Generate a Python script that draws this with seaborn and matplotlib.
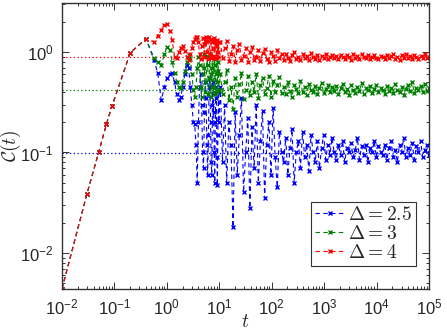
import numpy as np
import pandas as pd
import matplotlib
matplotlib.use("Agg")
import matplotlib.pyplot as plt
import seaborn as sns
from matplotlib.ticker import LogLocator, NullFormatter

# early times, identical for all three curves
t_early = [0.01, 0.03, 0.05, 0.07, 0.09, 0.2, 0.4]
c_early = [0.0044, 0.039, 0.10, 0.19, 0.29, 0.98, 1.35]

# oscillating part, 0.5 < t < 10
t_mid = [0.57, 0.67, 0.78, 0.9, 1.0, 1.13, 1.26, 1.4, 1.55, 1.7, 1.85, 2.0,
         2.2, 2.4, 2.6, 2.8, 3.0, 3.2, 3.4, 3.6, 3.8, 4.0,
         4.2, 4.4, 4.6, 4.8, 5.0, 5.2, 5.4, 5.6, 5.8, 6.0, 6.2, 6.4, 6.6, 6.8,
         7.0, 7.2, 7.4, 7.6, 7.8, 8.0, 8.2, 8.4, 8.6, 8.8, 9.0, 9.2, 9.4, 9.6, 9.8]

mid_25 = [0.83, 0.62, 0.33, 0.45, 0.55, 0.6, 0.62, 0.5, 0.38, 0.33, 0.36, 0.45,
          0.6, 0.75, 0.7, 0.45, 0.3, 0.2, 0.19, 0.12, 0.05, 0.2,
          0.45, 0.6, 0.3, 0.1, 0.07, 0.25, 0.5, 0.35, 0.12, 0.06, 0.15, 0.45, 0.55, 0.2,
          0.08, 0.06, 0.3, 0.5, 0.25, 0.1, 0.05, 0.2, 0.45, 0.35, 0.09, 0.047, 0.15, 0.4, 0.2]
mid_3 = [0.87, 0.8, 0.74, 0.95, 1.12, 1.05, 0.8, 0.62, 0.5, 0.45, 0.44, 0.5,
         0.65, 0.8, 0.93, 0.85, 0.6, 0.42, 0.36, 0.45, 0.7, 0.9,
         0.75, 0.45, 0.36, 0.6, 0.95, 0.7, 0.4, 0.5, 0.92, 0.75, 0.38, 0.55, 0.95, 0.6,
         0.36, 0.7, 0.9, 0.45, 0.4, 0.85, 0.75, 0.38, 0.6, 0.88, 0.5, 0.4, 0.8, 0.65, 0.42]
mid_4 = [1.26, 1.45, 1.66, 1.85, 1.9, 1.6, 1.32, 0.9, 0.87, 1.0, 1.1, 1.15,
         1.02, 0.9, 0.84, 0.95, 1.1, 1.25, 1.35, 1.4, 1.42, 1.25,
         0.95, 0.86, 1.15, 1.38, 1.2, 0.9, 1.3, 1.42, 1.0, 0.86, 1.3, 1.4, 0.95, 0.88,
         1.35, 1.25, 0.9, 1.1, 1.38, 0.92, 0.87, 1.3, 1.2, 0.88, 1.15, 1.33, 0.9, 1.0, 1.25]

# long-time fluctuations, sampled evenly in log t from 10.5 to 1e5
late_25 = [0.45, 0.08, 0.3, 0.05, 0.2, 0.12, 0.018, 0.25, 0.06, 0.15, 0.35, 0.04, 0.1, 0.22, 0.028,
           0.18, 0.07, 0.3, 0.05, 0.13, 0.26, 0.035, 0.12, 0.2, 0.06, 0.28, 0.09, 0.045, 0.16, 0.1,
           0.08, 0.14, 0.06, 0.11, 0.17, 0.05, 0.1, 0.13, 0.07, 0.16, 0.09, 0.12,
           0.065, 0.15, 0.1, 0.08, 0.13, 0.07, 0.11, 0.15, 0.085, 0.12, 0.095, 0.14,
           0.1, 0.085, 0.12, 0.095, 0.13, 0.08, 0.11, 0.1, 0.125, 0.09, 0.105, 0.14,
           0.085, 0.115, 0.095, 0.12, 0.08, 0.11, 0.1, 0.13, 0.09, 0.115, 0.1,
           0.095, 0.12, 0.085, 0.11, 0.13, 0.09, 0.105, 0.08, 0.12, 0.1, 0.14, 0.09,
           0.11, 0.095, 0.125, 0.085, 0.115, 0.1, 0.13, 0.09, 0.105, 0.12, 0.095]
late_3 = [0.6, 0.38, 0.5, 0.66, 0.33, 0.45, 0.27, 0.55, 0.36, 0.48, 0.62, 0.34, 0.42, 0.57, 0.37,
          0.5, 0.4, 0.6, 0.35, 0.47, 0.55, 0.38, 0.44, 0.58, 0.36, 0.52, 0.4, 0.47, 0.56, 0.39,
          0.45, 0.38, 0.5, 0.41, 0.36, 0.47, 0.43, 0.39, 0.52, 0.4, 0.45, 0.37,
          0.48, 0.42, 0.4, 0.46, 0.38, 0.44, 0.49, 0.39, 0.43, 0.47, 0.4, 0.45,
          0.41, 0.46, 0.38, 0.44, 0.48, 0.4, 0.43, 0.37, 0.47, 0.42, 0.39, 0.45,
          0.41, 0.49, 0.38, 0.44, 0.42, 0.46, 0.39, 0.43, 0.47, 0.4, 0.44,
          0.42, 0.38, 0.46, 0.41, 0.44, 0.39, 0.48, 0.42, 0.4, 0.45, 0.37, 0.43,
          0.47, 0.41, 0.5, 0.39, 0.44, 0.42, 0.46, 0.4, 0.48, 0.41, 0.44]
late_4 = [1.25, 0.88, 1.1, 1.3, 0.82, 0.95, 1.15, 0.8, 1.05, 1.2, 0.84, 0.92, 1.1, 0.79, 1.0,
          1.12, 0.83, 0.9, 1.05, 0.81, 0.97, 1.08, 0.85, 0.8, 1.0, 0.92, 0.82, 1.04, 0.88, 0.95,
          0.84, 0.96, 0.88, 0.82, 0.93, 0.99, 0.85, 0.9, 0.83, 0.95, 0.87, 0.92,
          0.84, 0.97, 0.89, 0.86, 0.94, 0.83, 0.91, 0.88, 0.95, 0.85, 0.9, 0.93,
          0.87, 0.92, 0.85, 0.94, 0.89, 0.86, 0.93, 0.9, 0.84, 0.95, 0.88, 0.91,
          0.86, 0.96, 0.89, 0.87, 0.93, 0.85, 0.9, 0.94, 0.88, 0.86, 0.92,
          0.89, 0.85, 0.93, 0.87, 0.91, 0.95, 0.86, 0.9, 0.84, 0.93, 0.88, 0.96,
          0.87, 0.91, 0.85, 0.94, 0.89, 0.86, 0.92, 0.88, 0.95, 0.87, 0.9]

deltas = ["2.5", "3", "4"]
colors = ["#0000ff", "#008000", "#ff0000"]
plateaus = [0.098, 0.42, 0.9]
mids = [mid_25, mid_3, mid_4]
lates = [late_25, late_3, late_4]
x_decades = [1e-2, 1e-1, 1e0, 1e1, 1e2, 1e3, 1e4, 1e5]
y_decades = [1e-2, 1e-1, 1e0]

rows = []
for d, mid, late in zip(deltas, mids, lates):
    t_late = np.geomspace(10.5, 1e5, len(late))
    for t, c in zip(t_early + t_mid + list(t_late), c_early + mid + late):
        rows.append((d, t, c))
df = pd.DataFrame(rows, columns=["delta", "t", "C"])

sns.set_style("ticks")
plt.rcParams["font.family"] = ["Liberation Sans", "DejaVu Sans"]
plt.rcParams["mathtext.fontset"] = "custom"
plt.rcParams["mathtext.rm"] = "Liberation Sans"

fig = plt.figure(figsize=(4.47, 3.33), dpi=100)
ax = fig.add_axes([62 / 447, 1 - 289 / 333, 367 / 447, 286 / 333])

for p, col in zip(plateaus, colors):
    ax.axhline(p, color=col, ls=(0, (1, 2)), lw=0.9, zorder=1)

for d, col in zip(deltas, colors):
    sub = df[df["delta"] == d]
    sns.lineplot(data=sub, x="t", y="C", ax=ax, color=col, estimator=None, sort=False,
                 linestyle=(0, (4, 3)), lw=0.8, marker="x", markersize=3.5,
                 markeredgecolor=col, markeredgewidth=1.0,
                 label=r"$\Delta = %s$" % d, zorder=2)

ax.set_xscale("log")
ax.set_yscale("log")
ax.set_xlim(1e-2, 1e5)
ax.set_ylim(0.00438, 3.07)
ax.set_xticks(x_decades)
ax.set_yticks(y_decades)
ax.xaxis.set_minor_locator(LogLocator(base=10, subs=np.arange(2, 10), numticks=20))
ax.xaxis.set_minor_formatter(NullFormatter())
ax.yaxis.set_minor_formatter(NullFormatter())
ax.tick_params(which="both", direction="in", top=True, right=True, labelsize=12,
               color="#333333", width=0.7)
ax.tick_params(which="major", length=5, pad=6)
ax.tick_params(which="minor", length=2.5)
for s in ax.spines.values():
    s.set_color("#333333")
    s.set_linewidth(1.0)

ax.set_xlabel(r"$t$", fontsize=14, math_fontfamily="cm", labelpad=-2)
ax.set_ylabel(r"$\mathcal{C}(t)$", fontsize=14, math_fontfamily="cm", labelpad=-2)

leg = ax.legend(loc="lower right", bbox_to_anchor=(0.965, 0.08), fancybox=False,
                edgecolor="#333333", framealpha=1, fontsize=14, handlelength=1.5,
                handletextpad=0.2, borderpad=0.2, labelspacing=0.05, borderaxespad=0)
leg.get_frame().set_linewidth(0.8)
for txt in leg.get_texts():
    txt.set_math_fontfamily("cm")
for h in leg.get_lines():
    h.set_markersize(3)
    h.set_markeredgecolor(h.get_color())

fig.savefig("out.png", dpi=100)
